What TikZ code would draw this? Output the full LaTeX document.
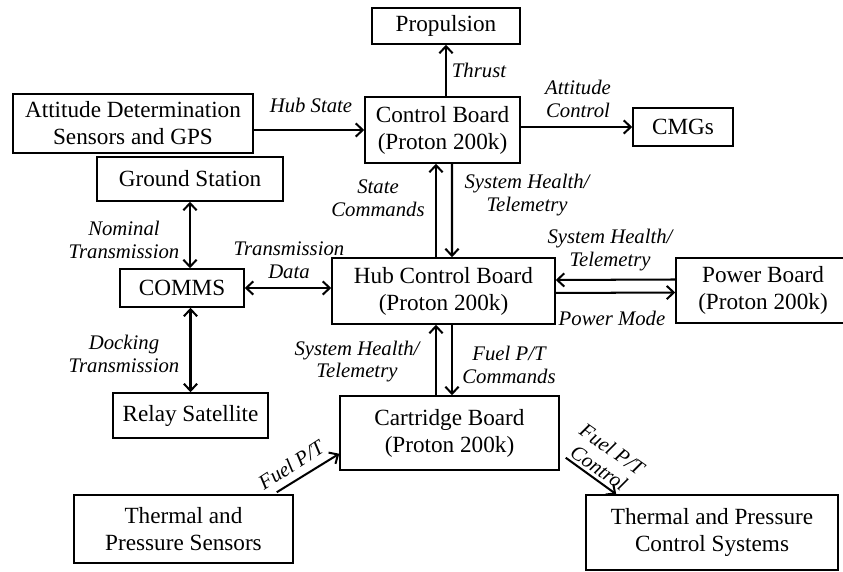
\documentclass[tikz,border=0pt]{standalone}
\usepackage{fontspec}
\setmainfont{Liberation Serif}
\usetikzlibrary{arrows.meta}

\begin{document}
\begin{tikzpicture}[
  block/.style={draw,line width=0.85pt,align=center,inner sep=0pt,font=\fontsize{13.2}{15.4}\selectfont},
  tag/.style={align=center,inner sep=0pt,font=\fontsize{11.8}{13}\selectfont\itshape},
  link/.style={line width=1.15pt,-{Straight Barb[length=4pt,width=7.5pt]}},
  both/.style={line width=1.15pt,{Straight Barb[length=4pt,width=7.5pt]}-{Straight Barb[length=4pt,width=7.5pt]}}
]
\useasboundingbox (0,0) rectangle (16.86,11.44);

% Upper boards
\node[block,minimum width=2.96cm,minimum height=0.72cm] (prop) at (8.92,10.92) {Propulsion};
\node[block,minimum width=4.8cm,minimum height=1.18cm] (att) at (2.66,8.97) {Attitude Determination\\Sensors and GPS};
\node[block,minimum width=3.1cm,minimum height=1.32cm] (ctrl) at (8.85,8.84) {Control Board\\(Proton 200k)};
\node[block,minimum width=2.0cm,minimum height=0.76cm] (cmg) at (13.66,8.90) {CMGs};

% Communication chain
\node[block,minimum width=3.72cm,minimum height=0.88cm] (gnd) at (3.80,7.86) {Ground Station};
\node[block,minimum width=2.48cm,minimum height=0.76cm] (comms) at (3.64,5.68) {COMMS};
\node[block,minimum width=3.1cm,minimum height=0.9cm] (relay) at (3.81,3.13) {Relay Satellite};

% Hub and power
\node[block,minimum width=4.46cm,minimum height=1.32cm] (hub) at (8.87,5.62) {Hub Control Board\\(Proton 200k)};
\node[block,minimum width=3.48cm,minimum height=1.3cm] (power) at (15.26,5.63) {Power Board\\(Proton 200k)};

% Cartridge and thermal
\node[block,minimum width=4.38cm,minimum height=1.48cm] (cart) at (8.99,2.78) {Cartridge Board\\(Proton 200k)};
\node[block,minimum width=4.38cm,minimum height=1.36cm] (tps) at (3.67,0.86) {Thermal and\\Pressure Sensors};
\node[block,minimum width=5.04cm,minimum height=1.5cm] (tpc) at (14.24,0.79) {Thermal and Pressure\\Control Systems};

% Connections
\draw[link] (prop.south |- ctrl.north) -- (prop.south);
\draw[link] (att.east |- ctrl.west) -- (ctrl.west);
\draw[link] (ctrl.east |- cmg.west) -- (cmg.west);
\draw[link] ([xshift=-0.15cm]hub.north) -- ([xshift=-0.13cm]ctrl.south);
\draw[link] ([xshift=0.19cm]ctrl.south) -- ([xshift=0.17cm]hub.north);
\draw[both] (gnd.south) -- (gnd.south |- comms.north);
\draw[both] (relay.north |- comms.south) -- (relay.north);
\draw[both] (comms.east) -- (comms.east -| hub.west);
\draw[link] ([yshift=0.22cm]power.west) -- ([yshift=0.22cm]hub.east);
\draw[link] ([yshift=-0.04cm]hub.east) -- ([yshift=-0.04cm]power.west);
\draw[link] ([xshift=-0.27cm]cart.north) -- ([xshift=-0.27cm]cart.north |- hub.south);
\draw[link] ([xshift=0.17cm]hub.south) -- ([xshift=0.17cm]hub.south |- cart.north);
\draw[link] ([xshift=-0.34cm,yshift=0.04cm]tps.north east) -- ([yshift=0.34cm]cart.south west);
\draw[link] ([xshift=0.12cm,yshift=0.26cm]cart.south east) -- ([xshift=0.62cm]tpc.north west);

% Labels
\node[tag] (thrust) at (9.58,10.04) {Thrust};
\node[tag] (hubstate) at (6.22,9.34) {Hub State};
\node[tag] (attctl) at (11.56,9.47) {Attitude\\Control};
\node[tag] (statecmd) at (7.56,7.47) {State\\Commands};
\node[tag] (healthup) at (10.54,7.54) {System Health/\\Telemetry};
\node[tag] (healthpwr) at (12.20,6.44) {System Health/\\Telemetry};
\node[tag] (pwrmode) at (12.24,5.08) {Power Mode};
\node[tag] (txdata) at (5.78,6.23) {Transmission\\Data};
\node[tag] (nominal) at (2.48,6.65) {Nominal\\Transmission};
\node[tag] (docking) at (2.48,4.37) {Docking\\Transmission};
\node[tag] (healthcart) at (7.14,4.21) {System Health/\\Telemetry};
\node[tag] (fuelcmd) at (10.18,4.14) {Fuel P/T\\Commands};
\node[tag,rotate=33] (fuelin) at (5.82,2.14) {Fuel P/T};
\node[tag,rotate=-35] (fuelout) at (12.11,2.27) {Fuel P/T\\Control};

\end{tikzpicture}
\end{document}
